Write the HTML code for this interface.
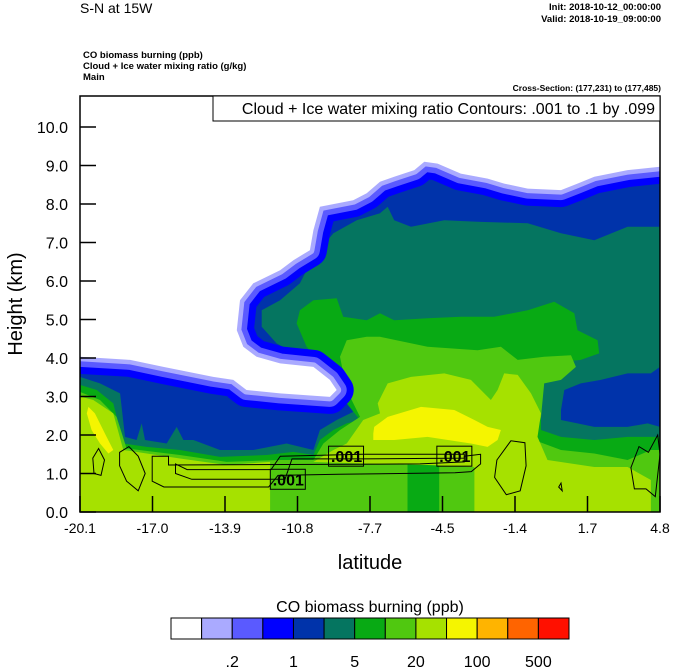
<!DOCTYPE html>
<html><head><meta charset="utf-8"><style>
html,body{margin:0;padding:0;background:#fff;}
svg{display:block;font-family:"Liberation Sans",Arial,sans-serif;}
</style></head><body>
<svg id="chart" width="674" height="668" viewBox="0 0 674 668">
<defs><clipPath id="plotclip"><rect x="80" y="96" width="580" height="416"/></clipPath></defs>
<text x="80" y="13" font-size="14">S-N at 15W</text>
<text x="661" y="10" font-size="9.5" text-anchor="end" font-weight="bold">Init: 2018-10-12_00:00:00</text>
<text x="661" y="22" font-size="9.5" text-anchor="end" font-weight="bold">Valid: 2018-10-19_09:00:00</text>
<text x="83" y="58" font-size="9.5" font-weight="bold">CO biomass burning   (ppb)</text>
<text x="83" y="69" font-size="9.5" font-weight="bold">Cloud + Ice water mixing ratio   (g/kg)</text>
<text x="83" y="80" font-size="9.5" font-weight="bold">Main</text>
<text x="661" y="91" font-size="8.5" text-anchor="end" font-weight="bold">Cross-Section: (177,231) to (177,485)</text>
<g id="plot" clip-path="url(#plotclip)"></g>
<g id="contours" clip-path="url(#plotclip)"></g>
<rect x="80" y="96" width="580" height="416" fill="none" stroke="#000" stroke-width="1.5"/>
<rect x="213" y="96" width="447" height="25" fill="#fff" stroke="#000" stroke-width="1"/>
<text x="655" y="114" font-size="16" text-anchor="end">Cloud + Ice water mixing ratio Contours: .001 to .1 by .099</text>
<g id="axes"></g>
<text x="370" y="569" font-size="20" text-anchor="middle">latitude</text>
<text transform="translate(22,304) rotate(-90)" font-size="20" text-anchor="middle">Height (km)</text>
<text x="370" y="612" font-size="16" text-anchor="middle">CO biomass burning  (ppb)</text>
<g id="colorbar"></g>
</svg>
<script>
// ---- data (latitude, km) ----
const xTickLabels = ["-20.1","-17.0","-13.9","-10.8","-7.7","-4.5","-1.4","1.7","4.8"];
const yTickValues = [0,1,2,3,4,5,6,7,8,9,10];
const levelColors = ["#ffffff","#aaaaff","#5a5aff","#0000ff","#0033aa","#057560","#08aa14","#50c810","#a6e100","#f5f500","#ffb400","#ff6400","#ff1000"];
const colorbarLabels = [".2","1","5","20","100","500"];
const whiteRegion = [[-20.1,10.8],[4.8,10.8],[4.8,8.97],[3.41,8.88],[1.98,8.71],[1.26,8.53],[0.55,8.36],[-0.88,8.40],[-1.89,8.53],[-2.60,8.66],[-3.75,8.79],[-4.75,9.05],[-5.32,9.10],[-5.75,8.88],[-6.61,8.71],[-7.22,8.58],[-7.79,8.28],[-8.37,8.10],[-9.80,7.93],[-10.08,7.32],[-10.23,6.80],[-10.94,6.54],[-11.51,6.28],[-12.66,5.94],[-13.23,5.50],[-13.37,4.72],[-13.09,4.29],[-12.52,4.03],[-11.51,3.86],[-10.08,3.77],[-9.37,3.43],[-9.08,3.17],[-9.37,2.99],[-11.51,3.08],[-12.95,3.17],[-13.52,3.43],[-14.38,3.51],[-16.52,3.77],[-17.95,3.95],[-20.1,4.03]];
const tealRegion = [[-20.1,3.51],[-19.24,3.34],[-18.38,3.08],[-18.17,1.95],[-17.67,1.87],[-17.45,2.30],[-17.31,1.87],[-16.38,1.78],[-15.95,2.21],[-15.66,1.87],[-15.23,1.87],[-14.09,1.61],[-12.66,1.61],[-11.23,1.78],[-10.08,1.61],[-9.80,2.13],[-9.08,2.39],[-8.37,2.60],[-8.80,3.08],[-9.65,3.60],[-10.66,4.03],[-11.66,4.38],[-12.30,4.81],[-12.30,5.24],[-11.51,5.50],[-10.66,5.94],[-10.08,6.63],[-9.22,7.24],[-8.22,7.58],[-7.22,7.76],[-6.89,7.93],[-6.61,7.58],[-5.89,7.41],[-4.46,7.58],[-3.03,7.54],[-0.88,7.50],[0.55,7.24],[1.98,7.06],[3.41,7.41],[4.8,7.41],[4.8,0],[-20.1,0]];
const darkBlueBlob = [[0.55,2.65],[0.69,3.17],[1.40,3.34],[2.26,3.43],[3.41,3.60],[4.41,3.60],[4.8,3.77],[4.8,2.21],[4.27,2.30],[3.41,2.21],[1.98,2.21],[1.26,2.30],[0.55,2.39]];
const greenRegion = [[-20.1,3.30],[-19.38,3.17],[-18.67,2.82],[-18.24,1.78],[-17.24,1.69],[-15.81,1.61],[-14.09,1.43],[-12.09,1.48],[-10.94,1.56],[-10.08,1.48],[-9.80,1.87],[-9.22,2.13],[-8.65,2.30],[-8.08,2.39],[-8.65,2.82],[-9.22,3.34],[-9.80,3.86],[-10.37,4.29],[-10.80,4.90],[-10.66,5.24],[-10.08,5.50],[-9.08,5.55],[-8.80,5.07],[-7.79,4.98],[-7.22,5.16],[-6.61,4.98],[-5.18,5.03],[-3.75,5.07],[-2.32,5.07],[-0.88,5.24],[0.26,5.46],[1.12,5.16],[1.26,4.72],[2.12,4.46],[2.19,4.12],[1.40,3.95],[-0.03,3.86],[-0.31,3.34],[-0.31,2.13],[0.55,1.95],[1.98,1.87],[3.41,1.95],[4.8,1.95],[4.8,0],[-20.1,0]];
const midGreenRegion = [[-20.1,3.12],[-19.24,2.91],[-18.53,2.47],[-18.10,1.65],[-15.81,1.48],[-13.80,1.30],[-11.51,1.35],[-10.08,1.35],[-9.65,1.78],[-8.94,2.13],[-8.08,2.47],[-8.65,3.17],[-8.94,4.03],[-8.65,4.46],[-7.79,4.55],[-7.22,4.55],[-5.18,4.29],[-3.03,4.20],[-2.03,4.29],[-1.31,3.95],[-0.17,4.03],[0.98,4.07],[1.19,3.77],[0.55,3.43],[-0.17,3.34],[-0.31,2.47],[-0.60,1.87],[0.55,1.61],[1.98,1.52],[3.41,1.35],[4.41,1.61],[4.8,1.61],[4.8,0],[-20.1,0]];
const greenColumn = [[-6.04,0],[-6.04,1.30],[-4.68,1.30],[-4.68,0]];
const limeLeft = [[-20.1,3.0],[-19.53,2.91],[-18.67,2.56],[-18.24,1.61],[-15.81,1.39],[-13.80,1.22],[-11.94,1.30],[-11.94,0],[-20.1,0]];
const limeCenter = [[-10.08,1.30],[-9.22,1.61],[-8.65,1.78],[-7.94,2.39],[-7.22,2.56],[-7.32,2.82],[-6.89,3.34],[-5.89,3.51],[-4.46,3.60],[-3.32,3.43],[-2.46,2.91],[-2.17,3.17],[-1.89,3.60],[-1.31,3.56],[-0.74,3.08],[-0.31,2.56],[-0.46,1.95],[-0.03,1.35],[1.98,1.17],[3.41,1.17],[4.41,0.83],[4.41,0],[-3.17,0],[-3.17,1.17],[-5.18,1.22],[-8.04,1.26]];
const yellowLeft = [[-19.74,2.73],[-19.46,2.56],[-18.96,1.95],[-18.67,1.61],[-18.88,1.52],[-19.24,1.78],[-19.60,2.13],[-19.81,2.56]];
const yellowCenter = [[-7.51,2.04],[-7.47,2.21],[-6.89,2.47],[-5.46,2.73],[-4.03,2.65],[-3.17,2.39],[-2.60,2.21],[-2.03,2.13],[-2.17,1.87],[-2.60,1.69],[-3.32,1.78],[-5.18,1.95],[-6.61,1.87],[-7.32,1.87],[-7.51,1.87]];
const contourLoops = [
 [[-17.0,1.45],[-16.3,1.45],[-16.3,1.22],[-5.5,1.25],[-3.6,1.30],[-3.6,1.45],[-2.9,1.50],[-2.9,1.25],[-3.3,1.05],[-4.0,1.02],[-9.0,0.98],[-11.6,0.95],[-12.0,0.65],[-16.5,0.65],[-17.0,0.80],[-17.0,1.45]],
 [[-16.0,1.25],[-15.5,1.10],[-11.9,1.10],[-11.5,1.45],[-8.0,1.50],[-3.6,1.50],[-3.6,1.40],[-8.0,1.38],[-11.0,1.38],[-11.3,0.85],[-15.3,0.85],[-16.0,1.00],[-16.0,1.25]],
 [[-19.55,1.40],[-19.3,1.65],[-19.05,1.35],[-19.2,0.95],[-19.5,1.00]],
 [[-18.4,1.55],[-18.0,1.70],[-17.6,1.45],[-17.3,1.00],[-17.6,0.55],[-18.1,0.80],[-18.4,1.20]],
 [[-2.2,1.35],[-1.6,1.85],[-1.0,1.80],[-0.95,1.2],[-1.2,0.55],[-1.8,0.45],[-2.3,0.9]],
 [[3.55,1.15],[3.9,1.70],[4.3,1.55],[4.7,2.0],[4.8,1.5],[4.6,0.4],[4.2,0.6],[3.7,0.6],[3.55,1.15]],
 [[0.45,0.65],[0.55,0.75],[0.6,0.55]]
];
const contourLabels = [[-8.7,1.45,".001"],[-4.05,1.45,".001"],[-11.2,0.85,".001"]];

// ---- axis functions ----
const X0=80,X1=660,Y0=512,PXKM=38.5, LATMIN=-20.1, LATMAX=4.8;
function xs(lat){return X0+(lat-LATMIN)/(LATMAX-LATMIN)*(X1-X0);}
function ys(h){return Y0-h*PXKM;}
const NS="http://www.w3.org/2000/svg";
function pathOf(pts){return pts.map((p,i)=>(i?"L":"M")+xs(p[0]).toFixed(1)+" "+ys(p[1]).toFixed(1)).join(" ")+" Z";}
const plot=document.getElementById("plot");
function poly(pts,fill,name){
  const p=document.createElementNS(NS,"path");
  p.setAttribute("d",pathOf(pts));p.setAttribute("fill",fill);
  
  
  plot.appendChild(p);return p;
}
const bg=document.createElementNS(NS,"rect");
bg.setAttribute("x",X0);bg.setAttribute("y",96);bg.setAttribute("width",X1-X0);bg.setAttribute("height",416);bg.setAttribute("fill",levelColors[4]);


plot.appendChild(bg);
poly(tealRegion,levelColors[5],"level-5-10ppb");
poly(darkBlueBlob,levelColors[4],"level-1-5ppb-blob");
poly(greenRegion,levelColors[6],"level-10-20ppb");
poly(midGreenRegion,levelColors[7],"level-20-50ppb");
poly(greenColumn,levelColors[6],"level-10-20ppb-column");
poly(limeLeft,levelColors[8],"level-50-100ppb-left");
poly(limeCenter,levelColors[8],"level-50-100ppb-center");
poly(yellowLeft,levelColors[9],"level-100-200ppb-left");
poly(yellowCenter,levelColors[9],"level-100-200ppb-center");
[[34,levelColors[3],"level-0.5-1ppb"],[20,levelColors[2],"level-0.2-0.5ppb"],[9,levelColors[1],"level-0.1-0.2ppb"]].forEach(s=>{
  const p=poly(whiteRegion,"none",s[2]);
  p.setAttribute("stroke",s[1]);p.setAttribute("stroke-width",s[0]);p.setAttribute("stroke-linejoin","round");
});
poly(whiteRegion,levelColors[0],"level-below-0.1ppb");

// contours
const cg=document.getElementById("contours");
contourLoops.forEach(l=>{
  const p=document.createElementNS(NS,"path");
  p.setAttribute("d",pathOf(l));p.setAttribute("fill","none");p.setAttribute("stroke","#000");p.setAttribute("stroke-width","1");
  
  
  cg.appendChild(p);
});
contourLabels.forEach(c=>{
  const r=document.createElementNS(NS,"rect");
  r.setAttribute("x",xs(c[0])-17);r.setAttribute("y",ys(c[1])-10);r.setAttribute("width",35);r.setAttribute("height",20);
  r.setAttribute("fill","none");r.setAttribute("stroke","#000");
  
  
  cg.appendChild(r);
  const t=document.createElementNS(NS,"text");
  t.setAttribute("x",xs(c[0])+1);t.setAttribute("y",ys(c[1])+6);t.setAttribute("font-size","16");t.setAttribute("text-anchor","middle");t.setAttribute("font-weight","bold");
  t.textContent=c[2];
  
  
  cg.appendChild(t);
});

// axes
const ax=document.getElementById("axes");
function line(x1,y1,x2,y2,name){
  const l=document.createElementNS(NS,"line");
  l.setAttribute("x1",x1);l.setAttribute("y1",y1);l.setAttribute("x2",x2);l.setAttribute("y2",y2);
  l.setAttribute("stroke","#000");l.setAttribute("stroke-width","1.5");
  
  
  ax.appendChild(l);
}
function text(x,y,s,size,anchor,name){
  const t=document.createElementNS(NS,"text");
  t.setAttribute("x",x);t.setAttribute("y",y);t.setAttribute("font-size",size);t.setAttribute("text-anchor",anchor);
  t.textContent=s;
  
  
  ax.appendChild(t);
}
yTickValues.forEach(v=>{
  line(X0,ys(v),X0+16,ys(v),"y-tick");
  text(68,ys(v)+6,v.toFixed(1),16,"end","y-tick-label");
});
xTickLabels.forEach((s,i)=>{
  const x=X0+i*(X1-X0)/(xTickLabels.length-1);
  line(x,Y0,x,Y0-16,"x-tick");
  text(x,533,s,14,"middle","x-tick-label");
});

// colorbar
const cb=document.getElementById("colorbar");
const CBX=171,CBW=398/levelColors.length;
levelColors.forEach((c,i)=>{
  const r=document.createElementNS(NS,"rect");
  r.setAttribute("x",CBX+i*CBW);r.setAttribute("y",618);r.setAttribute("width",CBW);r.setAttribute("height",21);
  r.setAttribute("fill",c);r.setAttribute("stroke","#000");r.setAttribute("stroke-width","1");
  
  
  cb.appendChild(r);
});
colorbarLabels.forEach((s,i)=>{
  const t=document.createElementNS(NS,"text");
  t.setAttribute("x",CBX+(2+2*i)*CBW);t.setAttribute("y",667);t.setAttribute("font-size","16");t.setAttribute("text-anchor","middle");
  t.textContent=s;
  
  
  cb.appendChild(t);
});
</script>
</body></html>
